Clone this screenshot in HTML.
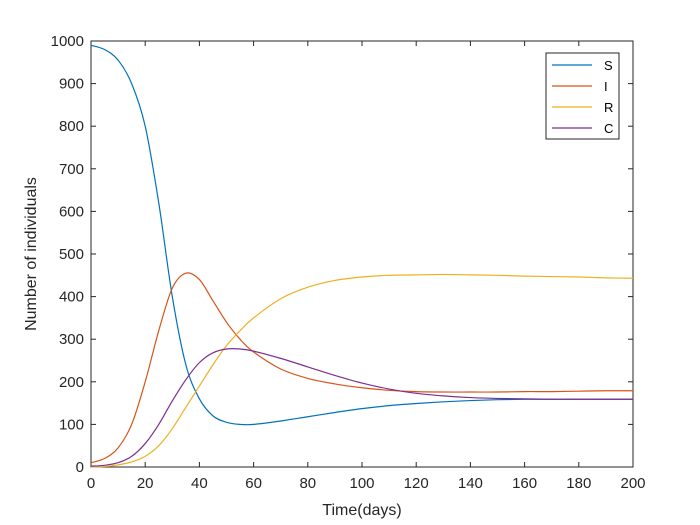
<!DOCTYPE html>
<html><head><meta charset="utf-8"><style>
body{margin:0;background:#fff;}
svg{display:block;font-family:"Liberation Sans",Arial,sans-serif;}
</style></head><body>
<svg id="chart" width="700" height="525" viewBox="0 0 700 525">
<rect x="0" y="0" width="700" height="525" fill="#fff"/>
<g id="plot"></g>
</svg>
<script>
const days=[0,5,10,15,20,25,30,35,40,45,50,55,60,70,80,90,100,110,120,130,140,150,160,170,180,190,200];
const sVals=[990,980,955,900,800,620,400,240,160,120,105,100,100,108,118,128,137,144,149,153,156,158,159,159,159,159,159];
const iVals=[10,20,45,100,200,320,420,455,440,390,340,300,270,230,208,195,186,180,177,176,176,176,177,177,178,179,179];
const rVals=[0,1,5,12,25,50,90,140,190,240,285,320,350,395,422,438,446,450,451,452,451,450,448,447,446,444,443];
const cVals=[2,4,10,25,55,100,155,205,245,268,277,277,272,255,235,215,197,183,173,167,163,161,160,159,159,159,159];
const seriesNames=["S","I","R","C"];
const xTicks=[0,20,40,60,80,100,120,140,160,180,200];
const yTicks=[0,100,200,300,400,500,600,700,800,900,1000];

const NS="http://www.w3.org/2000/svg";
const L=91,R=633,T=41,B=467;
const xs=v=>L+(v-0)/(200-0)*(R-L);
const ys=v=>B-(v-0)/(1000-0)*(B-T);
const g=document.getElementById('plot');
function mk(tag,attrs){const e=document.createElementNS(NS,tag);for(const k in attrs)e.setAttribute(k,attrs[k]);g.appendChild(e);return e;}

const frame=mk('rect',{x:L,y:T,width:R-L,height:B-T,fill:'#fff',stroke:'#262626','stroke-width':1});



xTicks.forEach(t=>{
  const x=xs(t);
  const l1=mk('line',{x1:x,y1:B,x2:x,y2:B-5,stroke:'#262626'});
  
  
  const l2=mk('line',{x1:x,y1:T,x2:x,y2:T+5,stroke:'#262626'});
  
  
  const tx=mk('text',{x:x,y:B+21,'text-anchor':'middle','font-size':15,fill:'#262626'});
  tx.textContent=t;
  
  
});
yTicks.forEach(t=>{
  const y=ys(t);
  const l1=mk('line',{x1:L,y1:y,x2:L+5,y2:y,stroke:'#262626'});
  
  
  const l2=mk('line',{x1:R,y1:y,x2:R-5,y2:y,stroke:'#262626'});
  
  
  const tx=mk('text',{x:L-7,y:y+5,'text-anchor':'end','font-size':15,fill:'#262626'});
  tx.textContent=t;
  
  
});
const xt=mk('text',{x:(L+R)/2,y:515,'text-anchor':'middle','font-size':16,fill:'#262626'});
xt.textContent='Time(days)';


const yt=mk('text',{x:36,y:(T+B)/2,'text-anchor':'middle','font-size':16,fill:'#262626',transform:'rotate(-90 36 '+((T+B)/2)+')'});
yt.textContent='Number of individuals';



function pathFor(vals){
  const p=days.map((d,i)=>[xs(d),ys(vals[i])]);
  let s='M'+p[0][0]+','+p[0][1];
  for(let i=0;i<p.length-1;i++){
    const p0=p[Math.max(0,i-1)],p1=p[i],p2=p[i+1],p3=p[Math.min(p.length-1,i+2)];
    const c1=[p1[0]+(p2[0]-p0[0])/6,p1[1]+(p2[1]-p0[1])/6];
    const c2=[p2[0]-(p3[0]-p1[0])/6,p2[1]-(p3[1]-p1[1])/6];
    s+=' C'+c1[0]+','+c1[1]+' '+c2[0]+','+c2[1]+' '+p2[0]+','+p2[1];
  }
  return s;
}
const colors=['#0072BD','#D95319','#EDB120','#7E2F8E'];
const all=[sVals,iVals,rVals,cVals];
all.forEach((v,k)=>{
  const p=mk('path',{d:pathFor(v),fill:'none',stroke:colors[k],'stroke-width':1.2});
  
  
});

const lg=mk('rect',{x:546,y:53,width:73,height:86,fill:'#fff',stroke:'#262626','stroke-width':1});


seriesNames.forEach((n,k)=>{
  const y=65+k*21;
  const l=mk('line',{x1:552,y1:y,x2:592,y2:y,stroke:colors[k],'stroke-width':1.2});
  
  
  const t=mk('text',{x:604,y:y+5,'font-size':13,fill:'#000'});
  t.textContent=n;
  
  
});
</script>
</body></html>
